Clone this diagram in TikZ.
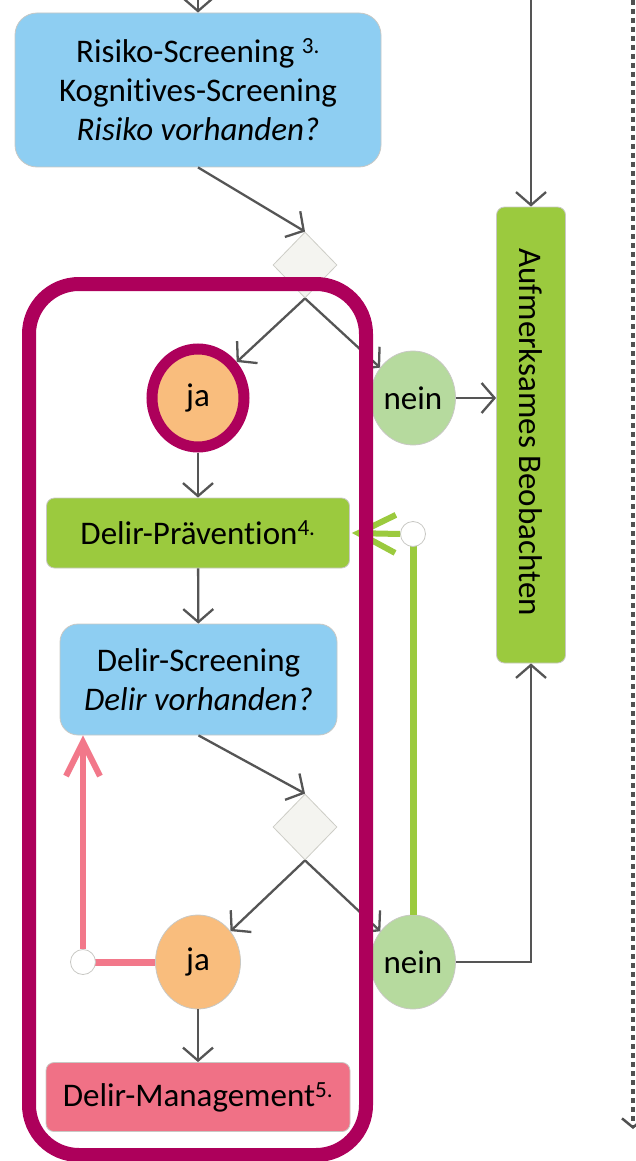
\documentclass[tikz,border=0pt]{standalone}
\usepackage{fontspec}
\setmainfont[Ligatures=NoCommon]{Carlito}
\usetikzlibrary{shapes.geometric,arrows.meta}
\definecolor{lblue}{RGB}{142,206,242}
\definecolor{lgreen}{RGB}{155,202,62}
\definecolor{orng}{RGB}{249,189,125}
\definecolor{ngreen}{RGB}{182,218,158}
\definecolor{pinkbox}{RGB}{240,113,134}
\definecolor{pinkarr}{RGB}{242,120,138}
\definecolor{magframe}{RGB}{173,0,91}
\definecolor{dfill}{RGB}{244,244,240}
\definecolor{dborder}{RGB}{205,205,198}
\definecolor{arrgray}{RGB}{85,85,85}
\definecolor{dotgray}{RGB}{80,80,80}
\definecolor{bborder}{RGB}{200,200,196}
\begin{document}
\begin{tikzpicture}[x=1pt,y=-1pt,
  txt/.style={font=\fontsize{33}{39}\selectfont, align=center},
  box/.style={txt, draw=bborder, line width=0.8pt, inner sep=0pt},
  circ/.style={txt, ellipse, draw=bborder, line width=0.8pt, inner sep=0pt, minimum width=85pt, minimum height=94pt},
  dia/.style={diamond, draw=dborder, fill=dfill, line width=0.8pt, inner sep=0pt, minimum width=64pt, minimum height=66pt},
  wcirc/.style={circle, draw=bborder, fill=white, line width=0.8pt, inner sep=0pt, minimum size=25pt},
  arr/.style={draw=arrgray, line width=2.3pt, -{Straight Barb[length=13pt,width=30pt]}},
  gline/.style={draw=lgreen, line width=7pt},
  garr/.style={draw=lgreen, line width=6pt, -{Straight Barb[length=37pt,width=38pt]}},
  pline/.style={draw=pinkarr, line width=7pt},
  parr/.style={draw=pinkarr, line width=6pt, -{Straight Barb[length=34pt,width=34pt]}},
  dotline/.style={draw=dotgray, line width=4pt, dash pattern=on 5pt off 4pt},
  framebox/.style={draw=magframe, line width=14pt, rounded corners=50pt, inner sep=0pt}
]
\useasboundingbox (0,0) rectangle (635,1161);

% nodes
\node[box, fill=lblue, minimum width=366pt, minimum height=154pt, rounded corners=22pt] (risk) at (198,90)
  {Risiko-Screening \textsuperscript{3.}\\Kognitives-Screening\\\textit{Risiko vorhanden?}};
\node[dia] (d1) at (305,265) {};
\node[circ, fill=orng, draw=magframe, line width=11pt, minimum width=92pt, minimum height=98pt] (ja1) at (198,398) {ja};
\node[circ, fill=ngreen] (nein1) at (413,398) {nein};
\node[box, fill=lgreen, minimum width=69pt, minimum height=456pt, rounded corners=8pt] (auf) at (531,435) {};
\node[txt, rotate=-90] (auftext) at (531,432) {Aufmerksames Beobachten};
\node[box, fill=lgreen, minimum width=303pt, minimum height=70pt, rounded corners=8pt] (prev) at (198,533)
  {Delir-Prävention\textsuperscript{4.}};
\node[box, fill=lblue, minimum width=277pt, minimum height=111pt, rounded corners=18pt] (scr) at (198.5,679.5)
  {Delir-Screening\\\textit{Delir vorhanden?}};
\node[dia] (d2) at (305,827) {};
\node[circ, fill=orng] (ja2) at (198,962) {ja};
\node[circ, fill=ngreen] (nein2) at (413,962) {nein};
\node[box, fill=pinkbox, minimum width=304pt, minimum height=69pt, rounded corners=8pt] (mgmt) at (198,1097)
  {Delir-Management\textsuperscript{5.}};

\coordinate (topin) at (198,-2);
\coordinate (topr) at (531,-2);
\coordinate (dtop) at (633,0);
\coordinate (dbot) at (633,1129);

% gray connectors
\draw[arr] (topin) -- (risk.north);
\draw[arr] (risk.south) -- (d1.north);
\draw[arr] (d1.south) -- (ja1);
\draw[arr] (d1.south) -- (nein1);
\draw[arr] (nein1.east) -- (nein1.east -| auf.west);
\draw[arr] (topr) -- (auf.north);
\draw[arr] (ja1) -- (prev);
\draw[arr] (prev) -- (scr);
\draw[arr] (scr.south) -- (d2.north);
\draw[arr] (d2.south) -- (ja2);
\draw[arr] (d2.south) -- (nein2);
\draw[arr] (ja2) -- (mgmt);
\draw[arr] (nein2.east) -| (auf.south);
\draw[dotline, -{Straight Barb[length=9pt,width=22pt,line width=2.5pt]}] (dtop) -- (dbot);

% green loop
\coordinate (g1) at (413,534);
\draw[gline] (nein2.north) -- (g1);
\node[wcirc] (wc1) at (g1) {};
\draw[garr] (wc1.west) -- ([xshift=2pt]prev.east);

% magenta group frame
\node[framebox, minimum width=337pt, minimum height=871pt] (grp) at (197.5,719.5) {};

% pink loop
\coordinate (p1) at (83,962);
\draw[pline] (ja2.west) -- (p1);
\node[wcirc] (wc2) at (p1) {};
\draw[parr] (wc2.north) -- (wc2.north |- scr.south);
\end{tikzpicture}
\end{document}
